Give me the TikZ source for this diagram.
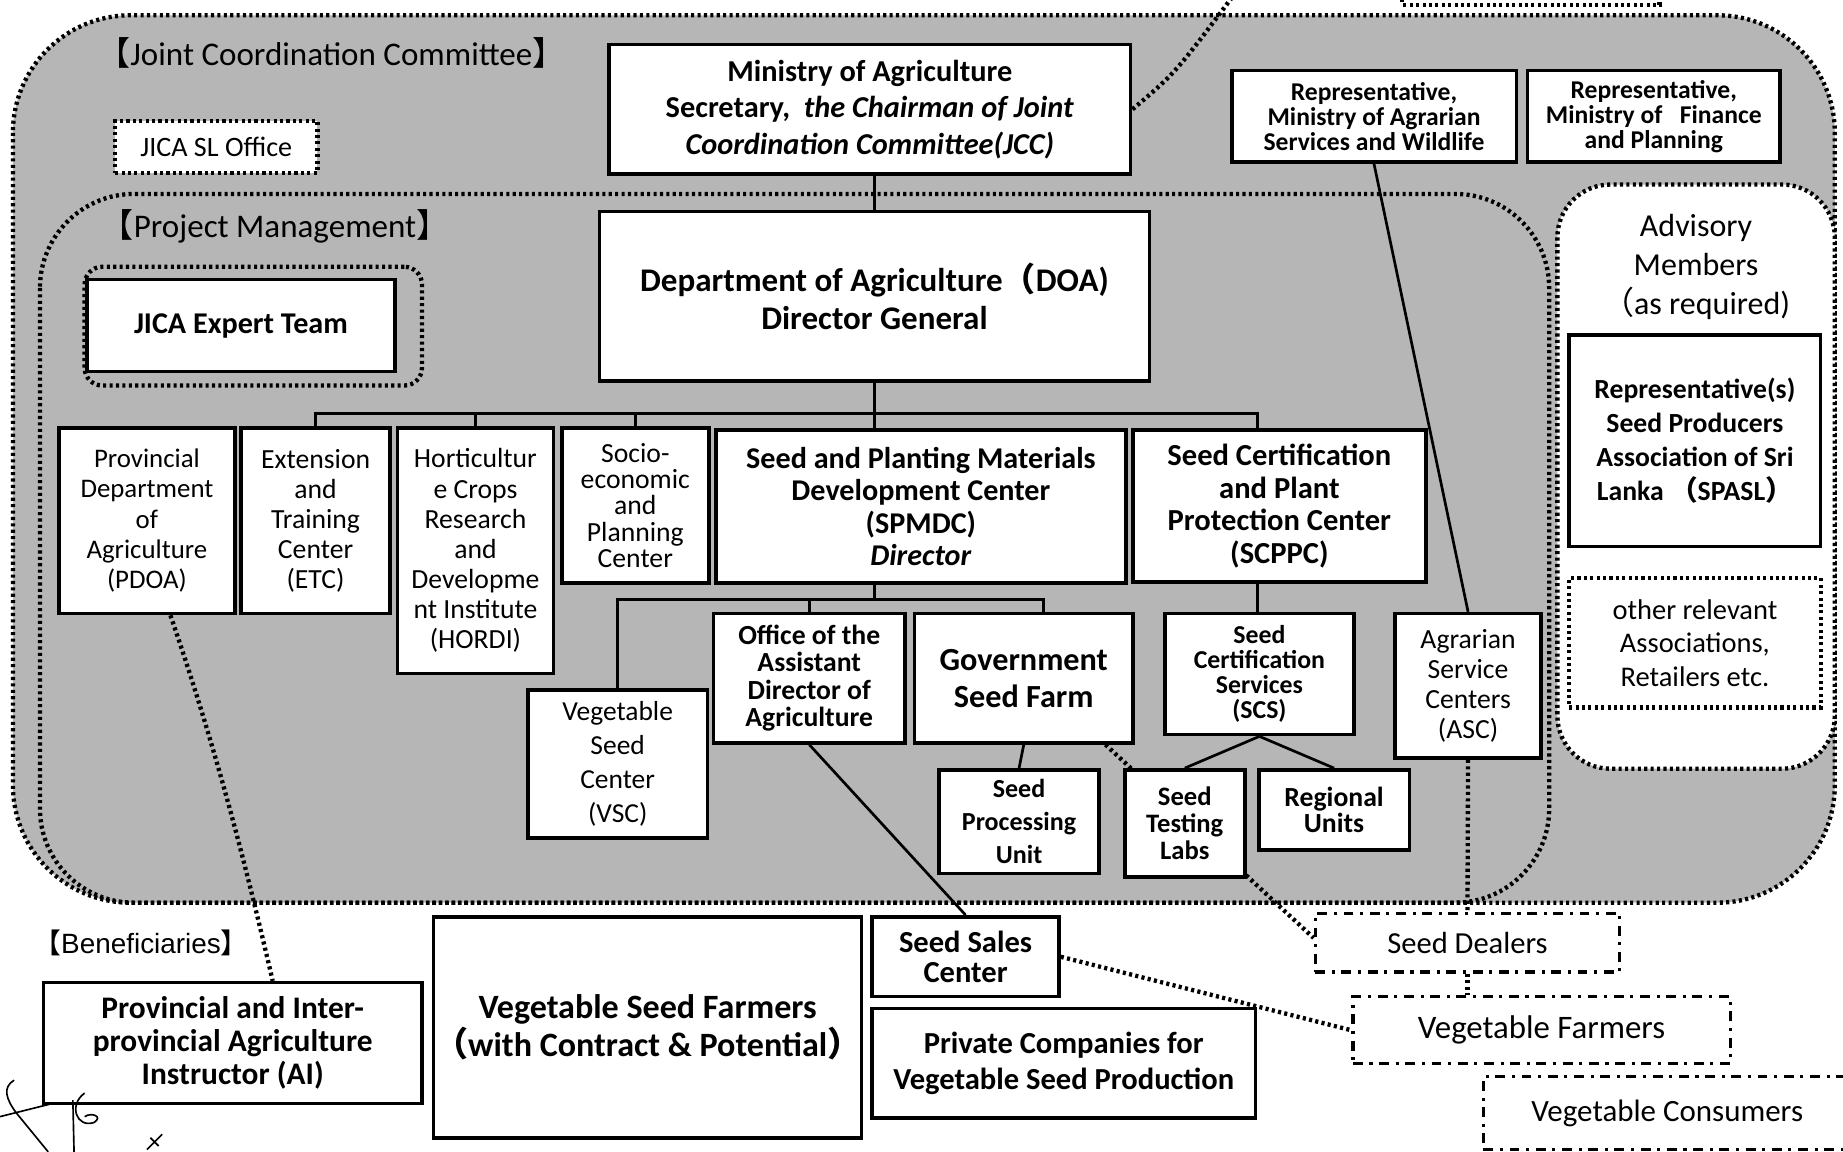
\documentclass[tikz,border=0pt]{standalone}
\usepackage{fontspec}
\setmainfont{Carlito}
\newfontfamily\cjk{Noto Sans CJK JP}
\newfontfamily\arialfont{Liberation Sans}
\usetikzlibrary{calc}
\definecolor{JccGrey}{RGB}{182,182,182}
\newcommand{\fsz}[2]{\fontsize{#1}{#2}\selectfont}

\begin{document}
\begin{tikzpicture}[x=0.02cm, y=-0.02cm,
    box/.style={draw, line width=1.7pt, fill=white, align=center, inner sep=0pt},
    bbox/.style 2 args={box, font=\fsz{#1}{#2}\bfseries},
    rbox/.style 2 args={box, font=\fsz{#1}{#2}},
    wh/.style 2 args={minimum width=#1*0.02cm, minimum height=#2*0.02cm},
    dotline/.style={line width=2.1pt, dash pattern=on 1.5pt off 1.6pt},
    dotbox/.style 2 args={rbox={#1}{#2}, dotline},
    dashdotbox/.style 2 args={rbox={#1}{#2}, line width=1.6pt, dash pattern=on 4.8pt off 3.2pt on 1.5pt off 3.2pt},
    link/.style={line width=1.3pt}]
    \useasboundingbox (0,0) rectangle (1568,980);

    % Regiones
    \draw[dotline, fill=JccGrey, rounded corners=2cm] (11,13) rectangle (1561,768);
    \draw[dotline, rounded corners=1.6cm] (34,165) rectangle (1318,768);
    \draw[dotline, fill=white, rounded corners=0.9cm] (1325,157) rectangle (1561,654);
    \node[font=\fsz{16}{18}] (jcctitle) at (282,45) {{\cjk 【}Joint Coordination Committee{\cjk 】}};
    \node[font=\fsz{16}{18}] (pmtitle) at (234,193) {{\cjk 【}Project Management{\cjk 】}};
    \node[font=\arialfont\fsz{13.5}{16}] (bentitle) at (120,802) {{\cjk 【}Beneficiaries{\cjk 】}};

    % Comite conjunto
    \node[bbox={14.7}{17.6}, wh={444}{110}] (ministry) at (740,93) {Ministry of Agriculture\\Secretary,~ \textit{the Chairman of Joint}\\\textit{Coordination Committee(JCC)}};
    \node[bbox={12.4}{12.2}, wh={242}{78}] (repag) at (1169,99) {Representative,\\Ministry of Agrarian\\Services and Wildlife};
    \node[bbox={12.4}{12.2}, wh={215}{78}] (repfin) at (1407,99) {Representative,\\Ministry of~~ Finance\\and Planning};
    \node[dotbox={13.6}{16}, wh={172}{44}] (jicasl) at (184,125) {JICA SL Office};

    % Miembros asesores
    \node[font=\fsz{15.5}{18.8}, align=center] (advisory) at (1443,227) {Advisory\\Members\\{\cjk （}as required)};
    \node[bbox={13.4}{16.4}, wh={214}{180}] (spasl) at (1442,375) {Representative(s)\\Seed Producers\\Association of Sri\\Lanka~{\cjk （}SPASL{\cjk ）}};
    \node[dotbox={13.8}{16.2}, wh={214}{110}] (others) at (1442,547) {other relevant\\Associations,\\Retailers etc.};

    % Gestion del proyecto
    \node[bbox={16}{18.1}, wh={468}{144}] (doa) at (744,252) {Department of Agriculture{\cjk （}DOA)\\Director General};
    \node[draw, dotline, rounded corners=0.3cm, wh={287}{101}] (jetframe) at (215.5,277.5) {};
    \node[bbox={14.6}{17}, wh={262}{78}] (jet) at (205,277) {JICA Expert Team};

    \node[rbox={13}{14.7}, wh={150}{158}] (pdoa) at (125,443) {Provincial\\Department\\of\\Agriculture\\(PDOA)};
    \node[rbox={13.4}{14.6}, wh={127}{158}] (etc) at (268.5,443) {Extension\\and\\Training\\Center\\(ETC)};
    \node[rbox={13.4}{14.6}, wh={133}{209}] (hordi) at (404.5,468.5) {Horticultur\\e Crops\\Research\\and\\Developme\\nt Institute\\(HORDI)};
    \node[rbox={13.4}{12.7}, wh={125}{132}] (socio) at (540.5,430) {Socio-\\economic\\and\\Planning\\Center};
    \node[bbox={14.6}{15.7}, wh={349}{130}] (spmdc) at (783.5,431) {Seed and Planting Materials\\Development Center\\(SPMDC)\\\textit{Director}};
    \node[bbox={14.8}{15.7}, wh={249}{129}] (scppc) at (1088.5,430.5) {Seed Certification\\and Plant\\Protection Center\\(SCPPC)};

    \node[rbox={13.3}{16.5}, wh={153}{126}] (vsc) at (525.5,650) {Vegetable\\Seed\\Center\\(VSC)};
    \node[bbox={13.4}{13.3}, wh={163}{110}] (office) at (688.5,577) {Office of the\\Assistant\\Director of\\Agriculture};
    \node[bbox={15.6}{18}, wh={186}{110}] (gsf) at (871,577) {Government\\Seed Farm};
    \node[bbox={12.5}{12.2}, wh={161}{103}] (scs) at (1071.5,573.5) {Seed\\Certification\\Services\\(SCS)};
    \node[rbox={13.4}{14.6}, wh={124}{123}] (asc) at (1249,583.5) {Agrarian\\Service\\Centers\\(ASC)};
    \node[bbox={12.6}{16}, wh={136}{88}] (spu) at (867,699) {Seed\\Processing\\Unit};

    % Beneficiarios
    \node[bbox={15.2}{16}, wh={322}{103}] (ai) at (198,887.5) {Provincial and Inter-\\provincial Agriculture\\Instructor (AI)};
    \node[bbox={16.5}{18.7}, wh={364}{188}] (vsf) at (551,874) {Vegetable Seed Farmers\\{\cjk （}with Contract \& Potential{\cjk ）}};
    \node[bbox={14.8}{14.7}, wh={159}{68}] (ssc) at (821.5,814) {Seed Sales\\Center};
    \node[bbox={14.8}{17.6}, wh={326}{93}] (pvt) at (905,904.5) {Private Companies for\\Vegetable Seed Production};
    \node[dashdotbox={14.8}{16}, wh={259}{50}] (sd) at (1248.5,802) {Seed Dealers};
    \node[dashdotbox={15.9}{18}, wh={321}{57}] (vf) at (1311.5,876.5) {Vegetable Farmers};
    \node[dashdotbox={15}{18}, wh={313}{62}] (vc) at (1418.5,947) {Vegetable Consumers};

    % Enlace punteado bajo los laboratorios
    \draw[dotline] ($(gsf.south east)+(-25,0)$) -- ($(sd.west)+(0,-4)$);
    \node[bbox={12.9}{13}, wh={102}{91}] (stl) at (1008,700.5) {Seed\\Testing\\Labs};
    \node[bbox={13.4}{13}, wh={128}{68}] (ru) at (1135,689) {Regional\\Units};

    % Enlaces
    \coordinate (busE) at (1070,352);
    \coordinate (subE) at (888,510);
    \draw[link] (ministry.south -| doa.north) -- (doa.north);
    \draw[link] (doa.south) -- (doa.south |- spmdc.north);
    \draw[link] (etc.north) |- (busE) -- (busE |- scppc.north);
    \draw[link] (hordi.north) -- (hordi.north |- busE);
    \draw[link] (socio.north) -- (socio.north |- busE);
    \draw[link] (doa.south |- spmdc.south) -- (doa.south |- subE);
    \draw[link] (vsc.north) |- (subE) -- (subE |- gsf.north);
    \draw[link] (office.north) -- (office.north |- subE);
    \draw[link] (busE |- scppc.south) -- (busE |- scs.north);
    \draw[link] (scs.south) -- (stl.north);
    \draw[link] (scs.south) -- (ru.north);
    \draw[link] (gsf.south) -- (spu.north);
    \draw[link] (office.south) -- (ssc.north);
    \draw[link] (repag.south) -- (asc.north);

    % Enlaces punteados
    \coordinate (topend) at (1048,-2);
    \draw[dotline] (ministry.east) .. controls (1000,62) .. (topend);
    \draw[dotline] (1193,-6) -- (1193,4) -- (1412,4) -- (1412,-6);
    \draw[dotline] ($(pdoa.south)+(20,0)$) .. controls (185,640) and (210,740) .. ($(ai.north)+(34,0)$);
    \draw[dotline] (ssc.east) -- (vf.west);
    \draw[dotline] (asc.south) -- (sd.north);
    \draw[dotline] (sd.south) -- (sd.south |- vf.north);

    % Firma
    \draw[line width=0.8pt] (0,950) -- (44,939);
    \draw[line width=0.8pt] (12,919) .. controls (2,925) and (5,935) .. (14,947) -- (41,980);
    \draw[line width=0.8pt] (62,936) -- (63,980);
    \draw[line width=0.8pt] (72,930) .. controls (58,940) and (65,960) .. (80,955) .. controls (88,950) and (78,946) .. (72,950);
    \draw[line width=0.8pt] (125,978) -- (138,965) (128,968) -- (135,975);
\end{tikzpicture}
\end{document}
